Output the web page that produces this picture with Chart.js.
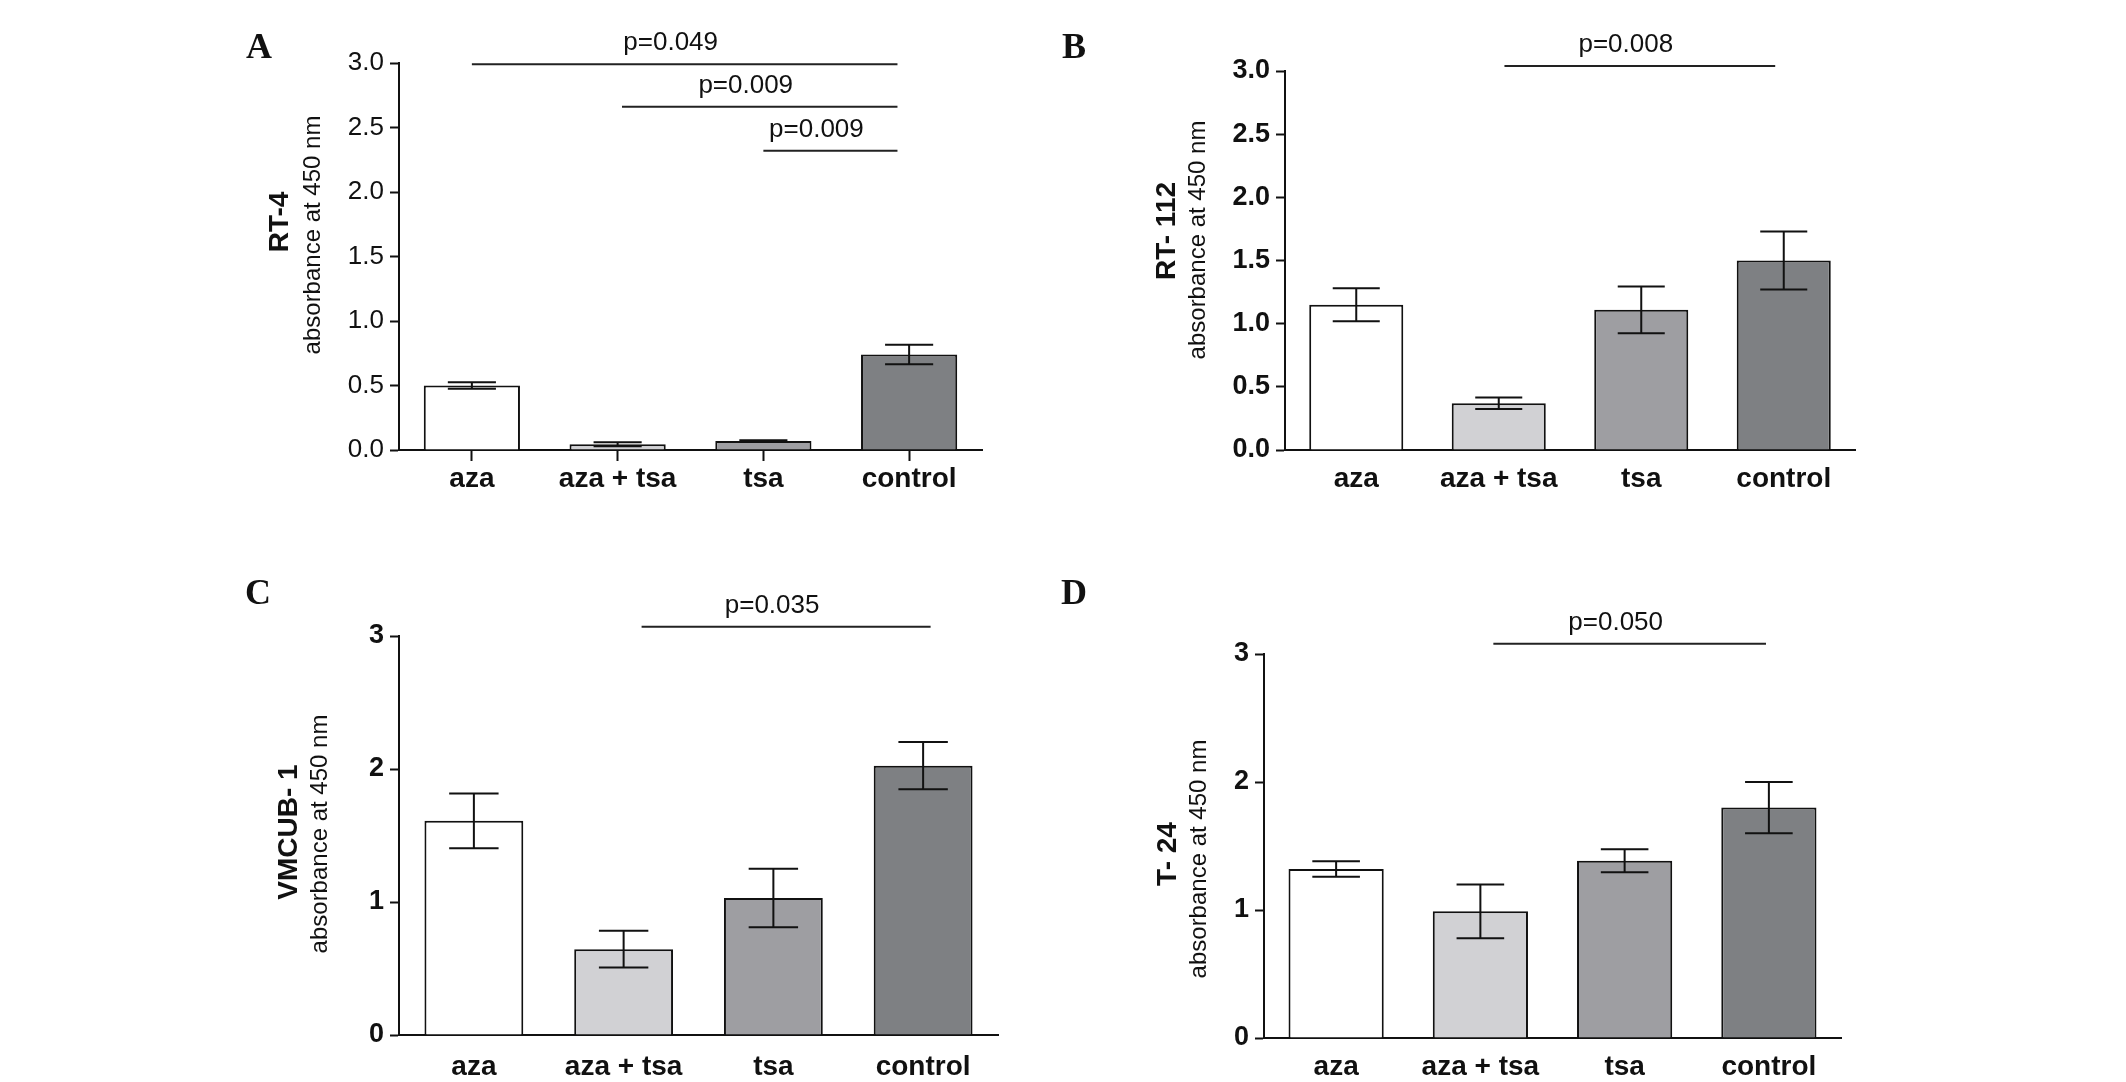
<!DOCTYPE html>
<html lang="en">
<head>
  <meta charset="UTF-8" />
  <title>Absorbance at 450 nm</title>
  <script src="https://cdn.jsdelivr.net/npm/chart.js"></script>
  <style>
    body { margin: 0; background: #fff; width: 2126px; height: 1082px; overflow: hidden; position: relative; font-family: "Liberation Sans", Arial, sans-serif; }
    .panel { position: absolute; width: 1063px; height: 541px; }
    .letter { position: absolute; font-family: "Liberation Serif", "Times New Roman", serif; font-weight: bold; font-size: 36px; line-height: 1; transform: translate(-50%, -50%); color: #111; }
  </style>
</head>
<body>
  <div class="panel" style="left:0;top:0"><canvas id="chartA"></canvas></div>
  <div class="panel" style="left:1063px;top:0"><canvas id="chartB"></canvas></div>
  <div class="panel" style="left:0;top:541px"><canvas id="chartC"></canvas></div>
  <div class="panel" style="left:1063px;top:541px"><canvas id="chartD"></canvas></div>
  <div class="letter" style="left:259px;top:46px">A</div>
  <div class="letter" style="left:1074px;top:46px">B</div>
  <div class="letter" style="left:258px;top:592px">C</div>
  <div class="letter" style="left:1074px;top:592px">D</div>

  <script>
    const groups = ["aza", "aza + tsa", "tsa", "control"];
    const barColors = ["#ffffff", "#d1d1d4", "#9e9ea2", "#7e8083"];
    const unitLabel = "absorbance at 450 nm";

    // RT-4
    const meanA = [0.50, 0.045, 0.07, 0.74];
    const semA = [0.026, 0.015, 0.005, 0.075];
    const yTicksA = [0, 0.5, 1, 1.5, 2, 2.5, 3];
    const yLabelsA = ["0.0", "0.5", "1.0", "1.5", "2.0", "2.5", "3.0"];
    const sigTextA = ["p=0.049", "p=0.009", "p=0.009"];
    const sigFromA = [0, 1.03, 2.0];
    const sigToA = [2.92, 2.92, 2.92];
    const sigYA = [2.99, 2.66, 2.32];

    // RT-112
    const meanB = [1.15, 0.37, 1.11, 1.50];
    const semB = [0.13, 0.045, 0.185, 0.23];
    const yTicksB = [0, 0.5, 1, 1.5, 2, 2.5, 3];
    const yLabelsB = ["0.0", "0.5", "1.0", "1.5", "2.0", "2.5", "3.0"];
    const sigTextB = ["p=0.008"];
    const sigFromB = [1.04];
    const sigToB = [2.94];
    const sigYB = [3.04];

    // VMCUB-1
    const meanC = [1.61, 0.645, 1.03, 2.025];
    const semC = [0.205, 0.138, 0.22, 0.178];
    const yTicksC = [0, 1, 2, 3];
    const yLabelsC = ["0", "1", "2", "3"];
    const sigTextC = ["p=0.035"];
    const sigFromC = [1.12];
    const sigToC = [3.05];
    const sigYC = [3.07];

    // T-24
    const meanD = [1.32, 0.99, 1.385, 1.80];
    const semD = [0.06, 0.21, 0.09, 0.20];
    const yTicksD = [0, 1, 2, 3];
    const yLabelsD = ["0", "1", "2", "3"];
    const sigTextD = ["p=0.050"];
    const sigFromD = [1.09];
    const sigToD = [2.98];
    const sigYD = [3.08];

    Chart.defaults.font.family = "'Liberation Sans', Arial, sans-serif";
    Chart.defaults.color = "#111";

    const panels = [
      { id: "chartA", cell: "RT-4", mean: meanA, sem: semA, yTicks: yTicksA, yLabels: yLabelsA,
        sigText: sigTextA, sigFrom: sigFromA, sigTo: sigToA, sigY: sigYA,
        pad: { left: 299, right: 81, top: 63, bottom: 31 }, xHeight: 60, tickBold: false, xMarks: true, xPad: 1,
        cellDx: -119, unitDx: -86, cellY: 222, unitY: 235 },
      { id: "chartB", cell: "RT- 112", mean: meanB, sem: semB, yTicks: yTicksB, yLabels: yLabelsB,
        sigText: sigTextB, sigFrom: sigFromB, sigTo: sigToB, sigY: sigYB,
        pad: { left: 122, right: 271, top: 71, bottom: 31 }, xHeight: 60, tickBold: true, xMarks: false, xPad: 1,
        cellDx: -118, unitDx: -87, cellY: 231, unitY: 240 },
      { id: "chartC", cell: "VMCUB- 1", mean: meanC, sem: semC, yTicks: yTicksC, yLabels: yLabelsC,
        sigText: sigTextC, sigFrom: sigFromC, sigTo: sigToC, sigY: sigYC,
        pad: { left: 299, right: 65, top: 95, bottom: 0 }, xHeight: 47, tickBold: true, xMarks: false, xPad: 4,
        cellDx: -110, unitDx: -79, cellY: 291, unitY: 293 },
      { id: "chartD", cell: "T- 24", mean: meanD, sem: semD, yTicks: yTicksD, yLabels: yLabelsD,
        sigText: sigTextD, sigFrom: sigFromD, sigTo: sigToD, sigY: sigYD,
        pad: { left: 101, right: 285, top: 113, bottom: 0 }, xHeight: 44, tickBold: true, xMarks: false, xPad: 1,
        cellDx: -96, unitDx: -65, cellY: 313, unitY: 318 }
    ];

    function overlay(p) {
      return {
        id: "overlay-" + p.id,
        afterDatasetsDraw(chart) {
          const { ctx, scales: { y } } = chart;
          const meta = chart.getDatasetMeta(0);
          ctx.save();
          ctx.strokeStyle = "#111";
          ctx.lineWidth = 2;
          meta.data.forEach((bar, i) => {
            const top = y.getPixelForValue(p.mean[i] + p.sem[i]);
            const bot = y.getPixelForValue(p.mean[i] - p.sem[i]);
            const half = bar.width * 0.25;
            ctx.beginPath();
            ctx.moveTo(bar.x, top); ctx.lineTo(bar.x, bot);
            ctx.moveTo(bar.x - half, top); ctx.lineTo(bar.x + half, top);
            ctx.moveTo(bar.x - half, bot); ctx.lineTo(bar.x + half, bot);
            ctx.stroke();
          });
          ctx.restore();
        },
        afterDraw(chart) {
          const { ctx, chartArea, scales: { x, y } } = chart;
          ctx.save();
          // significance bars
          ctx.strokeStyle = "#222";
          ctx.lineWidth = 2;
          ctx.fillStyle = "#111";
          ctx.font = "26px 'Liberation Sans', Arial, sans-serif";
          ctx.textAlign = "center";
          ctx.textBaseline = "middle";
          p.sigText.forEach((t, i) => {
            const x1 = x.getPixelForValue(p.sigFrom[i]);
            const x2 = x.getPixelForValue(p.sigTo[i]);
            const yy = y.getPixelForValue(p.sigY[i]);
            ctx.beginPath();
            ctx.moveTo(x1, yy); ctx.lineTo(x2, yy);
            ctx.stroke();
            ctx.fillText(t, (x1 + x2) / 2 - 14, yy - 21);
          });
          // rotated y titles
          ctx.save();
          ctx.translate(chartArea.left + p.cellDx, p.cellY);
          ctx.rotate(-Math.PI / 2);
          ctx.font = "bold 28px 'Liberation Sans', Arial, sans-serif";
          ctx.fillText(p.cell, 0, 0);
          ctx.restore();
          ctx.save();
          ctx.translate(chartArea.left + p.unitDx, p.unitY);
          ctx.rotate(-Math.PI / 2);
          ctx.font = "24px 'Liberation Sans', Arial, sans-serif";
          ctx.fillText(unitLabel, 0, 0);
          ctx.restore();
          ctx.restore();
        }
      };
    }

    panels.forEach(p => {
      new Chart(document.getElementById(p.id), {
        type: "bar",
        data: {
          labels: groups,
          datasets: [{
            data: p.mean,
            backgroundColor: barColors,
            borderColor: "#111",
            borderWidth: 2,
            barPercentage: 0.66,
            categoryPercentage: 1
          }]
        },
        options: {
          responsive: true,
          maintainAspectRatio: false,
          animation: false,
          layout: { autoPadding: false, padding: p.pad },
          plugins: { legend: { display: false }, tooltip: { enabled: false } },
          scales: {
            x: {
              grid: { drawOnChartArea: false, offset: false, tickLength: 11, tickWidth: 2,
                      tickColor: p.xMarks ? "#111" : "rgba(0,0,0,0)" },
              border: { color: "#111", width: 2 },
              ticks: { color: "#111", padding: p.xPad, maxRotation: 0, autoSkip: false,
                       font: { size: 28, weight: "bold" } },
              afterFit: s => { s.height = p.xHeight; }
            },
            y: {
              min: 0,
              max: 3,
              afterBuildTicks: s => { s.ticks = p.yTicks.map(v => ({ value: v })); },
              grid: { drawOnChartArea: false, tickLength: 9, tickWidth: 2, tickColor: "#111" },
              border: { color: "#111", width: 2 },
              ticks: { color: "#111", padding: 6, callback: (v, i) => p.yLabels[i],
                       font: { size: p.tickBold ? 27 : 26, weight: p.tickBold ? "bold" : "normal" } },
              afterFit: s => { s.width = 100; }
            }
          }
        },
        plugins: [overlay(p)]
      });
    });
  </script>
</body>
</html>
